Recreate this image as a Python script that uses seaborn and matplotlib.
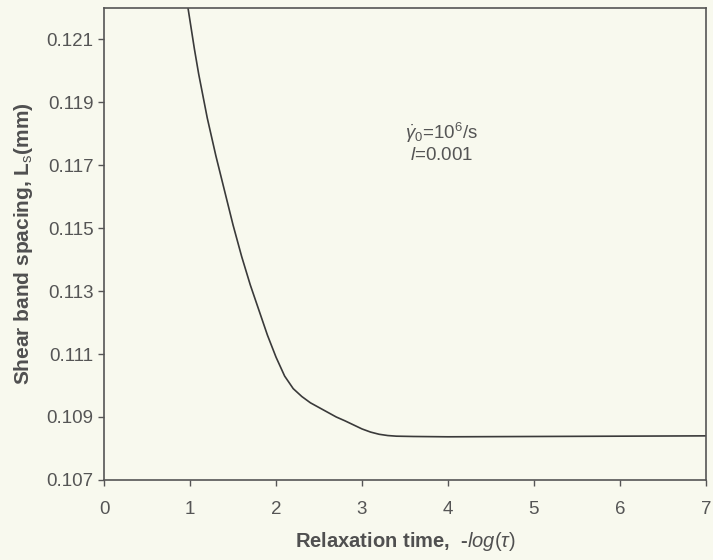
import numpy as np
import pandas as pd
import matplotlib.pyplot as plt
import seaborn as sns

# Valores
tiempo_relajacion = [0.97, 1.05, 1.1, 1.2, 1.3, 1.4, 1.5, 1.6, 1.7, 1.8, 1.9,
                     2.0, 2.1, 2.2, 2.3, 2.4, 2.5, 2.6, 2.7, 2.8, 2.9, 3.0,
                     3.1, 3.2, 3.3, 3.4, 3.6, 4.0, 5.0, 6.0, 7.0]
espaciado = [0.1221, 0.1207, 0.1199, 0.1185, 0.1173, 0.1162, 0.1151, 0.1141,
             0.1132, 0.1124, 0.1116, 0.1109, 0.1103, 0.1099, 0.10965, 0.10945,
             0.1093, 0.10915, 0.1090, 0.10888, 0.10875, 0.10862, 0.10852,
             0.10845, 0.10841, 0.10839, 0.10838, 0.10837, 0.10838, 0.10839,
             0.10840]
x_ticks = [0, 1, 2, 3, 4, 5, 6, 7]
y_ticks = [0.107, 0.109, 0.111, 0.113, 0.115, 0.117, 0.119, 0.121]

df = pd.DataFrame({"tau": tiempo_relajacion, "Ls": espaciado})

sns.set_style("ticks")
plt.rcParams["font.family"] = ["Liberation Sans", "DejaVu Sans"]
plt.rcParams["mathtext.fontset"] = "custom"
plt.rcParams["mathtext.rm"] = "Liberation Sans"
plt.rcParams["mathtext.it"] = "Liberation Sans:italic"
plt.rcParams["mathtext.bf"] = "Liberation Sans:bold"

fondo = "#f8f9ee"
fig = plt.figure(figsize=(7.13, 5.6), dpi=100, facecolor=fondo)
ax = fig.add_axes([0.146, 0.143, 0.844, 0.843])
ax.set_facecolor(fondo)

sns.lineplot(data=df, x="tau", y="Ls", ax=ax, color="#3a3a3a", linewidth=1.2)

ax.set_xlim(0, 7)
ax.set_ylim(0.107, 0.122)
ax.set_xticks(x_ticks)
ax.set_yticks(y_ticks)
ax.set_yticklabels([f"{v:.3f}" for v in y_ticks])
ax.tick_params(colors="#555555", labelcolor="#555555", labelsize=13.5,
               length=4, width=1, direction="out")
ax.tick_params(axis="x", pad=11)

for s in ax.spines.values():
    s.set_color("#555555")
    s.set_linewidth(1.2)

ax.set_xlabel(r"Relaxation time,  -$log(\tau)$", fontsize=14.5,
              fontweight="bold", color="#505050", labelpad=9)
ax.set_ylabel(r"Shear band spacing, L$_\mathrm{s}$(mm)", fontsize=15,
              fontweight="bold", color="#505050", labelpad=8)

ax.text(3.93, 0.11804, r"$\dot{\gamma}_0$=10$^6$/s", ha="center", va="center",
        fontsize=13.5, color="#555555")
ax.text(3.93, 0.11731, r"$l$=0.001", ha="center", va="center",
        fontsize=13.5, color="#555555")

plt.savefig("out.png", dpi=100, facecolor=fondo)
